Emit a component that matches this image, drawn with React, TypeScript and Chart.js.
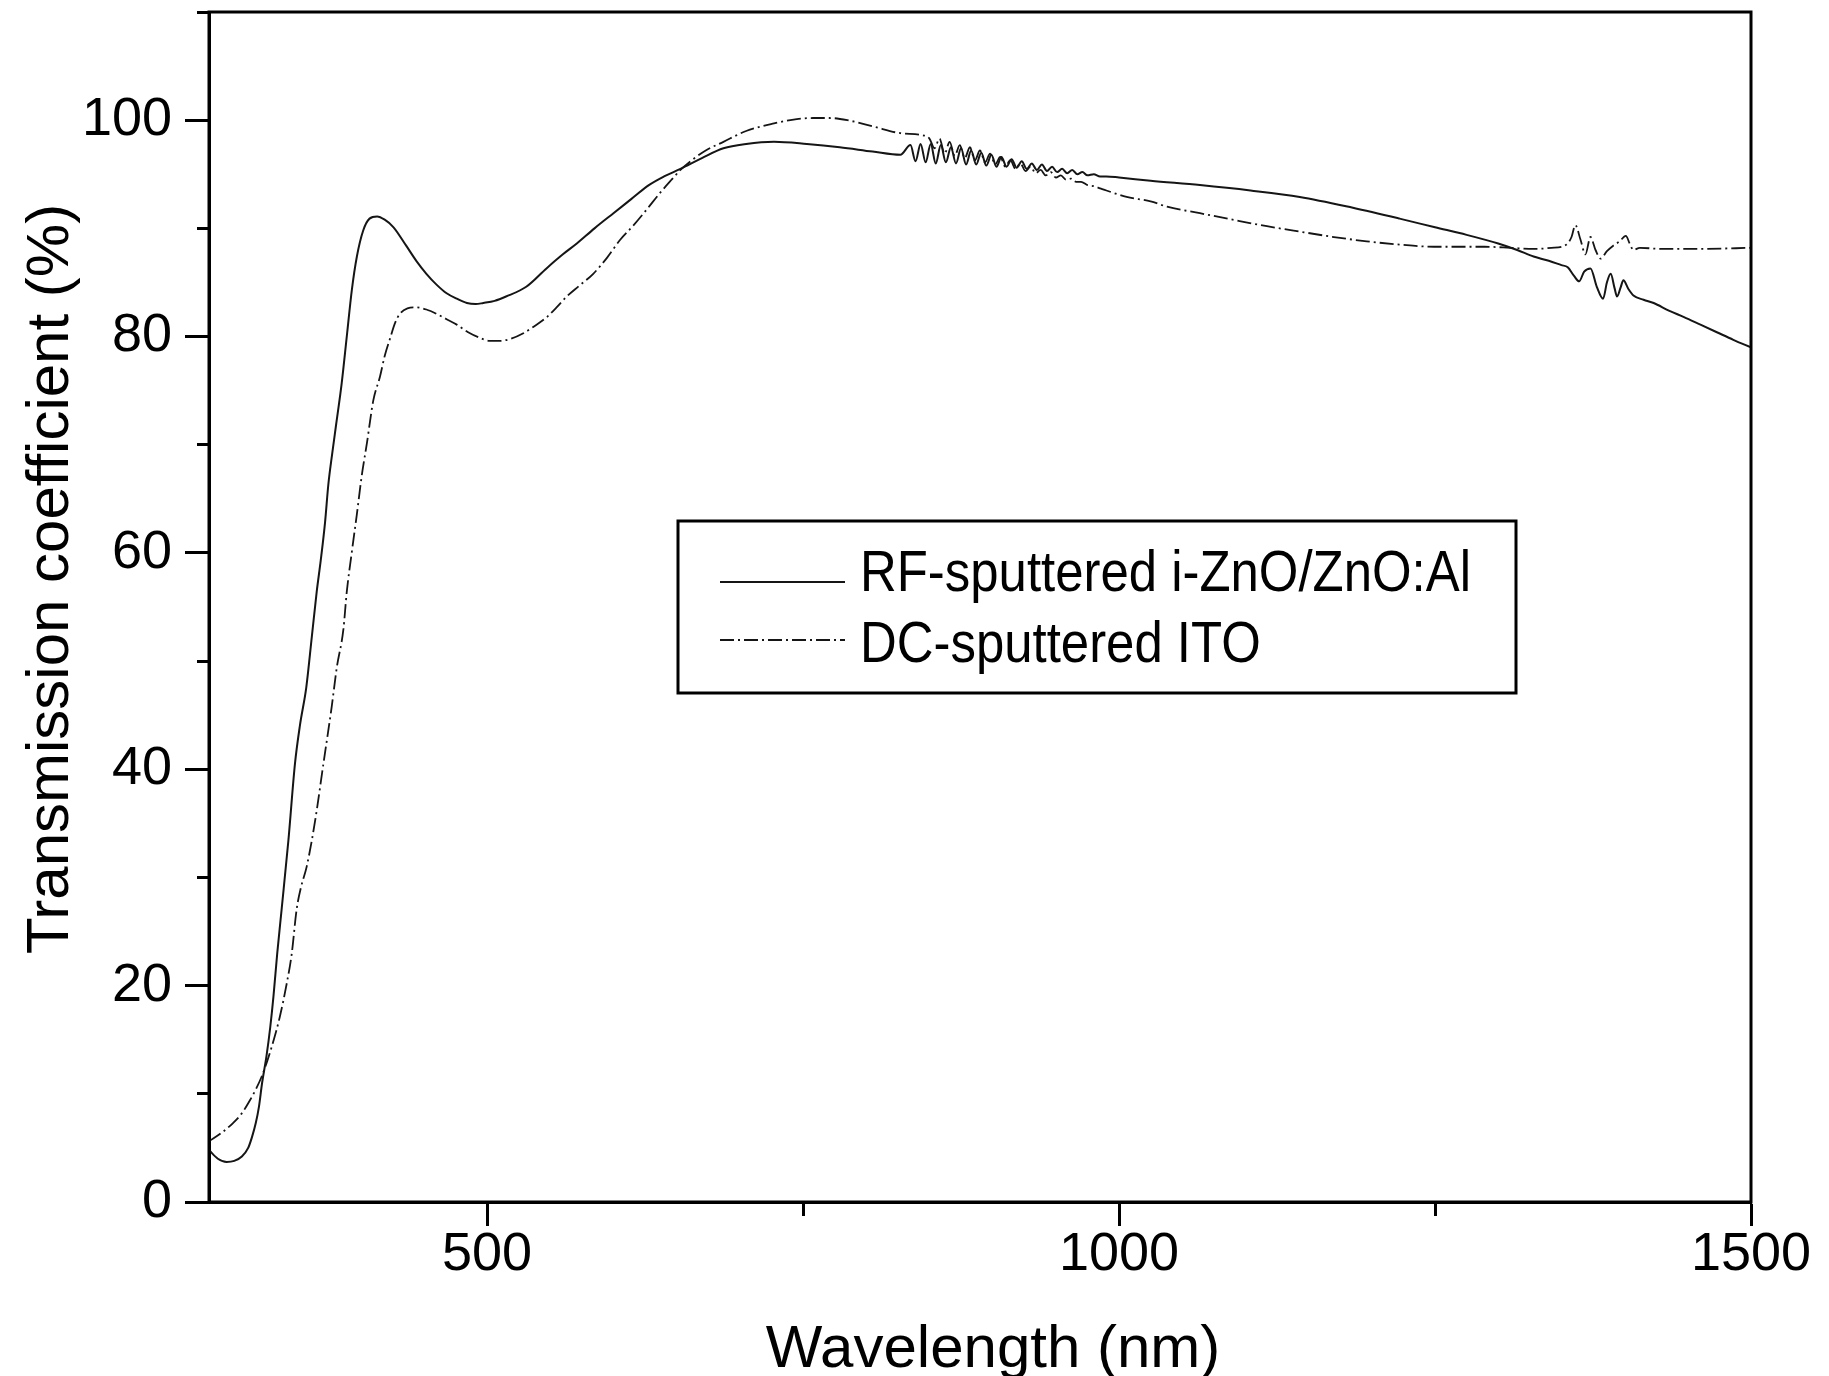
import React, { useEffect, useRef } from 'react';
import { Chart, registerables } from 'chart.js';

Chart.register(...registerables);

// ---------- data ----------
const seriesLabels = ['RF-sputtered i-ZnO/ZnO:Al', 'DC-sputtered ITO'];

const rfWavelength = [
  280, 287, 294, 300, 306, 311, 314, 317, 319.5, 322, 325.5, 328.5, 331, 334, 337.5, 342.8, 348, 352, 357,
  361.3, 365.2, 368.4, 371.8, 374.4, 377.5, 380.5, 385, 389, 393, 397, 402, 407, 413, 419, 426, 436, 444,
  452, 460, 468, 476, 484, 491, 497, 506, 515, 531, 547, 560, 571, 585, 600, 614, 628, 640, 653, 670, 687,
  705, 727, 753, 779, 805, 827,
  835, 839, 843, 847, 851, 855, 859, 863, 867, 871, 875, 879, 883, 887, 891, 895, 899, 903, 907, 911, 915,
  919, 923, 927, 931, 935, 939, 943, 947, 951, 955, 959, 963, 967, 971, 975, 980, 985,
  990, 1000, 1025, 1064, 1104, 1143, 1185,
  1222, 1250, 1275, 1300, 1315, 1328, 1340, 1350, 1355, 1360, 1364, 1368, 1373, 1378, 1383, 1386, 1389,
  1392, 1394, 1397, 1399, 1403, 1407, 1415, 1423, 1435, 1447, 1460, 1473, 1486, 1500,
];
const rfTransmission = [
  4.8, 4.0, 3.7, 3.8, 4.2, 5.0, 6.0, 7.3, 8.8, 11.0, 13.5, 16.2, 19.0, 23.0, 27.1, 33.4, 40.5, 44.1, 47.6,
  52.2, 56.4, 59.3, 62.8, 66.3, 69.2, 71.8, 75.7, 80.0, 84.3, 87.4, 89.8, 90.9, 91.1, 90.8, 90.1, 88.4, 87.0,
  85.8, 84.8, 84.0, 83.5, 83.1, 83.0, 83.1, 83.3, 83.7, 84.6, 86.3, 87.6, 88.6, 90.0, 91.4, 92.7, 94.0, 94.8,
  95.5, 96.5, 97.4, 97.8, 98.0, 97.8, 97.5, 97.1, 96.8,
  97.7, 96.2, 97.8, 96.1, 97.8, 96.0, 97.7, 96.1, 97.5, 96.0, 97.4, 95.9, 97.2, 95.9, 97.0, 95.8, 96.8, 95.7,
  96.6, 95.7, 96.4, 95.6, 96.2, 95.5, 96.0, 95.4, 95.9, 95.3, 95.7, 95.2, 95.5, 95.1, 95.4, 95.0, 95.2, 94.9,
  95.0, 94.8,
  94.8, 94.7, 94.4, 94.0, 93.5, 92.9, 91.9,
  90.9, 90.1, 89.4, 88.6, 88.0, 87.4, 87.0, 86.6, 86.4, 85.6,
  85.1, 86.0, 86.3, 84.6, 83.5, 85.0, 85.8, 84.5, 83.7, 84.6, 85.2, 84.4, 83.8, 83.4, 83.1, 82.4, 81.8, 81.1,
  80.4, 79.7, 79.0,
];

const itoWavelength = [
  280, 290, 299, 306, 312.4, 317, 321.7, 326, 331, 336, 341.5, 345.4, 349.4, 353, 357.3, 363.9, 370.5, 377.1,
  381.1, 386.3, 389, 392.9, 396.9, 400.8, 405, 410, 415.3, 419, 423.2, 427, 431, 437, 444, 452, 460, 468, 476,
  485, 494, 502, 510, 519, 528.7, 538, 547.3, 555, 563, 573, 584, 595, 605, 616, 626, 637, 646, 653, 662, 673,
  687, 705, 727, 745, 758, 771, 785, 806, 827, 845,
  850, 854, 858, 862, 866, 870, 874, 878, 882, 886, 890, 894, 898, 902, 906, 910, 914, 918, 922, 926, 930,
  934, 938, 942, 946, 950, 954, 958, 962, 966, 970, 975, 980, 985,
  990, 1006, 1025, 1038, 1064, 1090, 1117,
  1143, 1170, 1196, 1222, 1249, 1270, 1289, 1310, 1328, 1342, 1354, 1358, 1361, 1365, 1369, 1373, 1377, 1381,
  1386, 1391, 1396, 1401, 1404, 1407, 1412, 1430, 1460, 1500,
];
const itoTransmission = [
  5.6, 6.4, 7.3, 8.2, 9.4, 10.4, 11.6, 13.0, 14.9, 17.1, 20.2, 22.9, 27.1, 29.2, 31.0, 35.2, 40.5, 45.8, 49.4,
  52.9, 56.4, 60.0, 63.5, 67.1, 70.2, 74.1, 76.3, 78.2, 79.8, 81.2, 82.1, 82.6, 82.7, 82.5, 82.1, 81.6, 81.1,
  80.4, 79.9, 79.6, 79.6, 79.8, 80.3, 81.0, 81.8, 82.7, 83.7, 84.7, 85.8, 87.3, 88.9, 90.3, 91.7, 93.3, 94.5,
  95.4, 96.3, 97.2, 98.0, 99.0, 99.7, 100.1, 100.2, 100.2, 100.0, 99.4, 98.8, 98.6,
  98.3, 97.4, 98.3, 96.9, 98.0, 96.7, 97.7, 96.5, 97.5, 96.3, 97.2, 96.1, 96.9, 95.9, 96.6, 95.7, 96.3, 95.5,
  96.0, 95.3, 95.7, 95.1, 95.4, 94.9, 95.2, 94.7, 94.9, 94.5, 94.6, 94.3, 94.3, 94.0, 93.9, 93.7,
  93.5, 92.9, 92.5, 92.0, 91.4, 90.8, 90.2,
  89.7, 89.2, 88.8, 88.5, 88.3, 88.3, 88.3, 88.2, 88.1, 88.2, 88.5, 89.2, 90.3, 89.0, 87.6, 89.2, 88.0, 87.2,
  87.9, 88.4, 88.8, 89.3, 88.6, 88.0, 88.2, 88.1, 88.1, 88.2,
];

const xTickValues = [500, 750, 1000, 1250, 1500];
const xTickLabels = ['500', '', '1000', '', '1500'];
const yTickValues = [0, 10, 20, 30, 40, 50, 60, 70, 80, 90, 100, 110];
const yTickLabels = ['0', '', '20', '', '40', '', '60', '', '80', '', '100', ''];

const xTitle = 'Wavelength (nm)';
const yTitle = 'Transmission coefficient (%)';

// ---------- styling ----------
const FONT = '"Liberation Sans", Arial, Helvetica, sans-serif';
const INK = '#000000';
const CURVE = '#151515';
const ITO_DASH = [14, 4, 2, 4];

const framePlugin = {
  id: 'frame',
  afterDraw(chart: any) {
    const { ctx, chartArea } = chart;
    ctx.save();
    ctx.strokeStyle = INK;
    ctx.lineWidth = 3;
    ctx.strokeRect(chartArea.left, chartArea.top, chartArea.right - chartArea.left, chartArea.bottom - chartArea.top);
    ctx.restore();
  },
};

const axisTitlePlugin = {
  id: 'axisTitles',
  afterDraw(chart: any) {
    const { ctx } = chart;
    const xt = chart.options.scales.x.title.text;
    const yt = chart.options.scales.y.title.text;
    ctx.save();
    ctx.fillStyle = INK;
    ctx.font = `60px ${FONT}`;
    ctx.textAlign = 'center';
    ctx.textBaseline = 'alphabetic';
    ctx.fillText(xt, 993, 1367);
    ctx.translate(68, 579);
    ctx.rotate(-Math.PI / 2);
    ctx.fillText(yt, 0, 0);
    ctx.restore();
  },
};

const boxLegendPlugin = {
  id: 'boxLegend',
  afterDraw(chart: any) {
    const { ctx } = chart;
    const box = { left: 678, top: 521, right: 1516, bottom: 693 };
    const rows = [582, 640];
    const baselines = [591, 662];
    ctx.save();
    ctx.fillStyle = '#ffffff';
    ctx.fillRect(box.left, box.top, box.right - box.left, box.bottom - box.top);
    ctx.strokeStyle = INK;
    ctx.lineWidth = 3;
    ctx.strokeRect(box.left, box.top, box.right - box.left, box.bottom - box.top);

    const font = `57px ${FONT}`;
    ctx.font = font;
    const firstWidth = ctx.measureText(chart.data.datasets[0].label).width;
    const sx = 611 / firstWidth;

    chart.data.datasets.forEach((ds: any, i: number) => {
      ctx.save();
      ctx.strokeStyle = ds.borderColor;
      ctx.lineWidth = ds.borderWidth;
      ctx.setLineDash(ds.borderDash || []);
      ctx.beginPath();
      ctx.moveTo(720, rows[i]);
      ctx.lineTo(845, rows[i]);
      ctx.stroke();
      ctx.restore();

      ctx.save();
      ctx.fillStyle = INK;
      ctx.font = font;
      ctx.textAlign = 'left';
      ctx.textBaseline = 'alphabetic';
      ctx.translate(860, baselines[i]);
      ctx.scale(sx, 1);
      ctx.fillText(ds.label, 0, 0);
      ctx.restore();
    });
    ctx.restore();
  },
};

export default function App() {
  const canvasRef = useRef<HTMLCanvasElement | null>(null);

  useEffect(() => {
    document.body.style.margin = '0';
    const canvas = canvasRef.current;
    if (!canvas) return;

    const chart = new Chart(canvas, {
      type: 'line',
      data: {
        datasets: [
          {
            label: seriesLabels[0],
            data: rfWavelength.map((x, i) => ({ x, y: rfTransmission[i] })),
            borderColor: CURVE,
            borderWidth: 2,
            pointRadius: 0,
            fill: false,
            cubicInterpolationMode: 'monotone',
          },
          {
            label: seriesLabels[1],
            data: itoWavelength.map((x, i) => ({ x, y: itoTransmission[i] })),
            borderColor: CURVE,
            borderWidth: 1.8,
            borderDash: ITO_DASH,
            pointRadius: 0,
            fill: false,
            cubicInterpolationMode: 'monotone',
          },
        ],
      },
      options: {
        animation: false,
        responsive: false,
        devicePixelRatio: 1,
        layout: { padding: { left: 0, top: 12, right: 78, bottom: 0 } },
        plugins: {
          legend: { display: false },
          tooltip: { enabled: false },
        },
        scales: {
          x: {
            type: 'linear',
            min: 280,
            max: 1500,
            afterBuildTicks: (scale: any) => {
              scale.ticks = xTickValues.map((v) => ({ value: v }));
            },
            afterFit: (scale: any) => {
              scale.height = 174;
              scale.paddingLeft = 0;
              scale.paddingRight = 0;
              scale.paddingTop = 0;
              scale.paddingBottom = 0;
            },
            ticks: {
              autoSkip: false,
              maxRotation: 0,
              padding: 2,
              color: INK,
              font: { family: FONT, size: 54, lineHeight: 1 },
              callback: (_v: any, i: number) => xTickLabels[i],
            },
            grid: {
              drawOnChartArea: false,
              drawTicks: true,
              tickLength: 24,
              tickWidth: 3,
              tickColor: INK,
              tickBorderDash: (ctx: any) => (ctx.tick && ctx.tick.value % 500 !== 0 ? [12, 60] : []),
            },
            border: { display: true, width: 3, color: INK },
            title: { display: false, text: xTitle },
          },
          y: {
            type: 'linear',
            min: 0,
            max: 110,
            afterBuildTicks: (scale: any) => {
              scale.ticks = yTickValues.map((v) => ({ value: v }));
            },
            afterFit: (scale: any) => {
              scale.width = 209;
              scale.paddingLeft = 0;
              scale.paddingRight = 0;
              scale.paddingTop = 0;
              scale.paddingBottom = 0;
            },
            ticks: {
              autoSkip: false,
              padding: 13,
              color: INK,
              font: { family: FONT, size: 54, lineHeight: 1 },
              callback: (_v: any, i: number) => yTickLabels[i],
            },
            grid: {
              drawOnChartArea: false,
              drawTicks: true,
              tickLength: 24,
              tickWidth: 3,
              tickColor: INK,
              tickBorderDash: (ctx: any) => (ctx.tick && ctx.tick.value % 20 !== 0 ? [0, 12, 60, 0] : []),
            },
            border: { display: true, width: 3, color: INK },
            title: { display: false, text: yTitle },
          },
        },
      } as any,
      plugins: [framePlugin, axisTitlePlugin, boxLegendPlugin],
    });

    return () => {
      chart.destroy();
    };
  }, []);

  return (
    <div style={{ width: 1829, height: 1376, background: '#ffffff' }}>
      <canvas ref={canvasRef} width={1829} height={1376} style={{ display: 'block' }} />
    </div>
  );
}
